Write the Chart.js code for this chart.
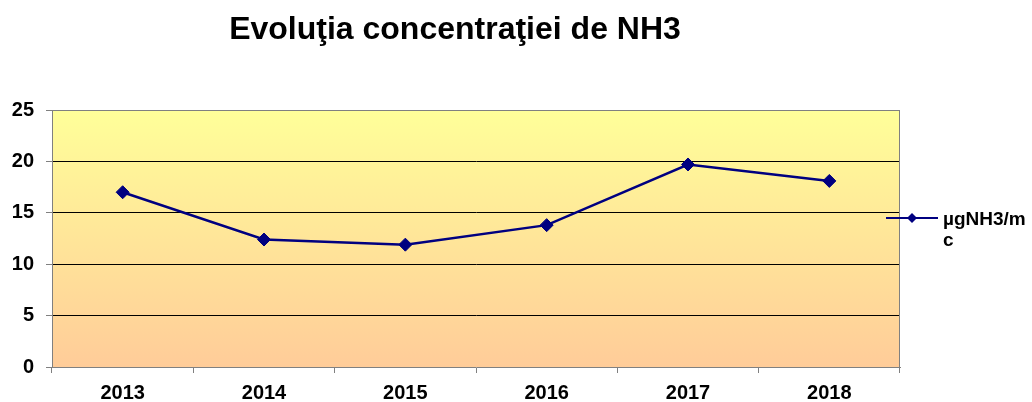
<!DOCTYPE html>
<html>
<head>
<meta charset="utf-8">
<script src="https://cdn.jsdelivr.net/npm/chart.js@4/dist/chart.umd.min.js"></script>
<style>
html,body{margin:0;padding:0;background:#fff;}
#wrap{width:1032px;height:402px;position:relative;}
</style>
</head>
<body>
<div id="wrap"><canvas id="c" width="1032" height="402"></canvas></div>
<script>
const years = ['2013', '2014', '2015', '2016', '2017', '2018'];
const nh3Values = [17.0, 12.4, 11.9, 13.8, 19.7, 18.1];
const yTicks = [0, 5, 10, 15, 20, 25];
const seriesLabel = ['µgNH3/m', 'c'];
const chartTitle = 'Evoluţia concentraţiei de NH3';

const FONT = '"Liberation Sans", Arial, sans-serif';
const NAVY = '#000080';

const decor = {
  id: 'decor',
  beforeDraw(chart) {
    const {ctx, chartArea: a} = chart;
    ctx.save();
    const g = ctx.createLinearGradient(0, a.top, 0, a.bottom);
    g.addColorStop(0, '#FFFF99');
    g.addColorStop(1, '#FFCC99');
    ctx.fillStyle = g;
    ctx.fillRect(a.left, a.top, a.right - a.left, a.bottom - a.top);
    ctx.restore();
  },
  afterDraw(chart) {
    const {ctx, chartArea: a} = chart;
    ctx.save();
    ctx.strokeStyle = '#808080';
    ctx.lineWidth = 1;
    ctx.beginPath();
    ctx.moveTo(a.left, a.top + 0.5); ctx.lineTo(a.right, a.top + 0.5);
    ctx.moveTo(a.right - 0.5, a.top); ctx.lineTo(a.right - 0.5, a.bottom);
    ctx.stroke();
    // title
    ctx.fillStyle = '#000';
    ctx.font = 'bold 32px ' + FONT;
    ctx.textAlign = 'center';
    ctx.textBaseline = 'alphabetic';
    ctx.fillText(chartTitle, 455, 39);
    // legend
    const ly = 218;
    ctx.strokeStyle = NAVY;
    ctx.lineWidth = 2;
    ctx.beginPath(); ctx.moveTo(886, ly); ctx.lineTo(938, ly); ctx.stroke();
    ctx.fillStyle = NAVY;
    ctx.beginPath();
    ctx.moveTo(912, ly - 5); ctx.lineTo(917, ly); ctx.lineTo(912, ly + 5); ctx.lineTo(907, ly); ctx.closePath();
    ctx.fill();
    ctx.fillStyle = '#000';
    ctx.font = 'bold 19px ' + FONT;
    ctx.textAlign = 'left';
    ctx.fillText(seriesLabel[0], 943, 225);
    ctx.fillText(seriesLabel[1], 943, 246);
    ctx.restore();
  }
};

new Chart(document.getElementById('c'), {
  type: 'line',
  data: {
    labels: years,
    datasets: [{
      label: seriesLabel.join(''),
      data: nh3Values,
      borderColor: NAVY,
      backgroundColor: NAVY,
      borderWidth: 2.5,
      pointStyle: 'rectRot',
      pointRadius: 6.5,
      pointBorderWidth: 1,
      pointBackgroundColor: NAVY,
      pointBorderColor: NAVY,
      tension: 0,
      fill: false
    }]
  },
  options: {
    responsive: false,
    animation: false,
    devicePixelRatio: 1,
    layout: {padding: {top: 110, right: 132, left: 0, bottom: 0}},
    plugins: {legend: {display: false}, title: {display: false}, tooltip: {enabled: false}},
    scales: {
      x: {
        offset: true,
        grid: {offset: true, drawOnChartArea: false, tickLength: 6, color: '#808080'},
        border: {color: '#808080'},
        ticks: {color: '#000', font: {family: FONT, size: 20, weight: 'bold'}, padding: 8, maxRotation: 0},
        afterFit(s) { s.height = 35; }
      },
      y: {
        min: 0, max: 25,
        afterBuildTicks(s) { s.ticks = yTicks.map(v => ({value: v})); },
        grid: {
          color: c => (c.tick && (c.tick.value === 0 || c.tick.value === 25)) ? 'rgba(0,0,0,0)' : '#000',
          tickColor: '#808080', tickLength: 6
        },
        border: {color: '#808080'},
        ticks: {color: '#000', font: {family: FONT, size: 20, weight: 'bold'}, padding: 12},
        afterFit(s) { s.width = 52; }
      }
    }
  },
  plugins: [decor]
});
</script>
</body>
</html>
